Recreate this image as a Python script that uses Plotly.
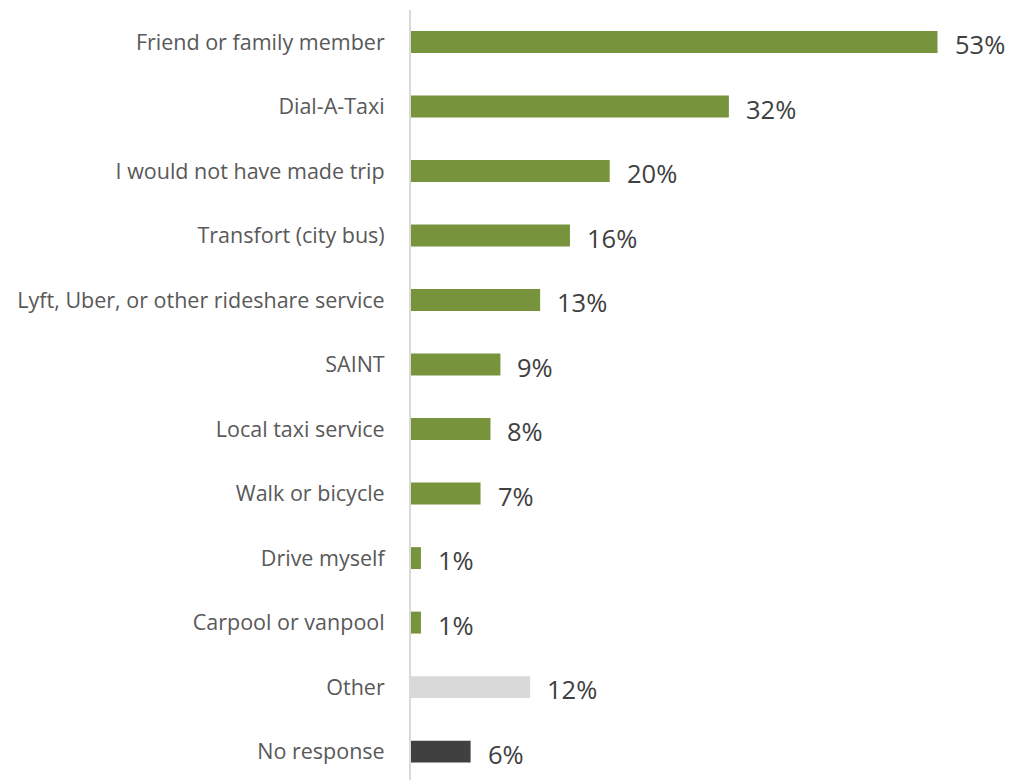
import plotly.graph_objects as go

categories = [
    "Friend or family member",
    "Dial-A-Taxi",
    "I would not have made trip",
    "Transfort (city bus)",
    "Lyft, Uber, or other rideshare service",
    "SAINT",
    "Local taxi service",
    "Walk or bicycle",
    "Drive myself",
    "Carpool or vanpool",
    "Other",
    "No response",
]
values = [53, 32, 20, 16, 13, 9, 8, 7, 1, 1, 12, 6]
bar_colors = ["#77933C"] * 10 + ["#D9D9D9", "#404040"]

fig = go.Figure(
    go.Bar(
        x=values,
        y=categories,
        orientation="h",
        marker=dict(color=bar_colors, line=dict(width=0)),
        hoverinfo="skip",
    )
)

for cat, val in zip(categories, values):
    fig.add_annotation(
        x=val, y=cat, text=f"{val}%", showarrow=False,
        xanchor="left", yanchor="middle", xshift=15, yshift=-2,
        font=dict(family="Open Sans", size=25.5, color="#404040"),
    )

fig.update_layout(
    width=1012, height=780,
    margin=dict(l=411, r=0, t=10, b=0),
    paper_bgcolor="white", plot_bgcolor="white",
    bargap=0.66,
    showlegend=False,
    xaxis=dict(range=[0, 60.5], visible=False),
    yaxis=dict(
        type="category",
        range=[11.44, -0.496],
        showline=True, linecolor="#D9D9D9", linewidth=2,
        showgrid=False, zeroline=False,
        ticks="", ticklabelstandoff=20,
        tickfont=dict(family="Open Sans", size=21.5, color="#595959"),
    ),
)

fig.write_html("out.html")
